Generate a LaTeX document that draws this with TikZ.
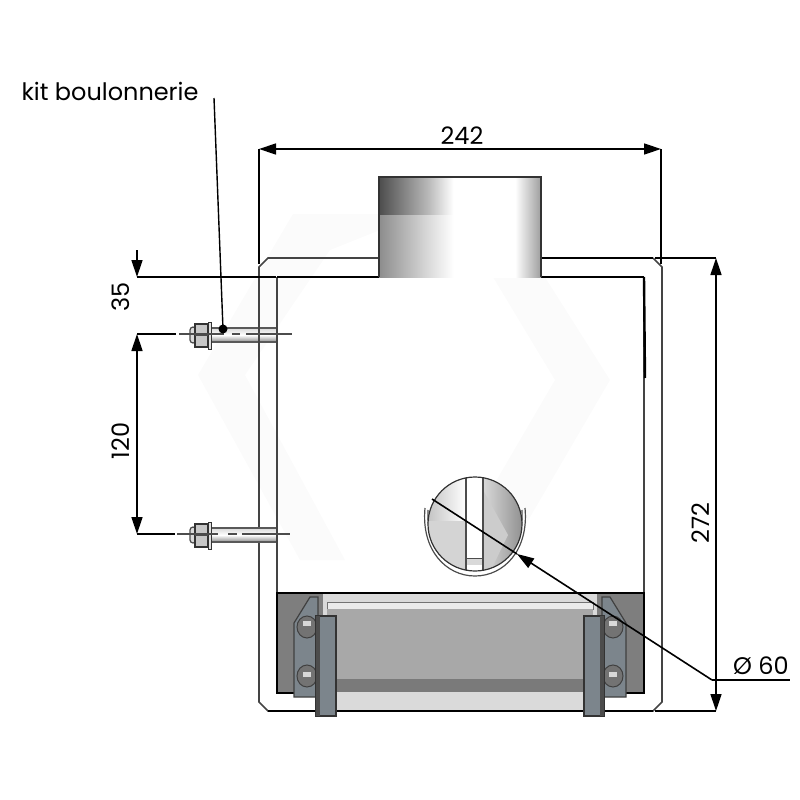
\documentclass[tikz,border=0pt]{standalone}
\usepackage{fontspec}
\setmainfont{Poppins}
\usetikzlibrary{calc,arrows.meta}

\definecolor{boxgray}{HTML}{7E7E7E}
\definecolor{panelgray}{HTML}{A8A8A8}
\definecolor{bandgray}{HTML}{7A7A7A}
\definecolor{lightgray}{HTML}{DADADA}
\definecolor{bargray}{HTML}{7C858C}
\definecolor{wallgray}{HTML}{444444}
\definecolor{markgray}{HTML}{FBFBFB}

\pgfdeclarehorizontalshading{pipelow}{100bp}{color(0bp)=(black!45);color(25bp)=(black!45);color(40bp)=(black!15);color(48bp)=(white);color(67bp)=(white);color(75bp)=(black!38);color(100bp)=(black!38)}
\pgfdeclarehorizontalshading{pipehigh}{100bp}{color(0bp)=(black!70);color(25bp)=(black!70);color(40bp)=(black!28);color(48bp)=(white);color(67bp)=(white);color(75bp)=(black!38);color(100bp)=(black!38)}

\tikzset{
  dimline/.style={line width=1.4pt,black},
  onetip/.style={-{Triangle[length=17pt,width=11pt]}},
  twotip/.style={{Triangle[length=17pt,width=11pt]}-{Triangle[length=17pt,width=11pt]}},
  wall/.style={line width=1.6pt,wallgray},
  dimlabel/.style={font=\fontsize{24}{24}\selectfont,inner sep=0pt},
  pics/bolt/.style={code={
    \shade[top color=black!15,bottom color=black!45,middle color=white] (11,-6) rectangle (77,8);
    \draw[line width=1.2pt,black!65] (11,-6) -- (77,-6) (11,8) -- (77,8);
    \draw[line width=1.2pt,black!70,fill=lightgray,rounded corners=3pt] (-10,-7) rectangle (-4,9);
    \draw[line width=1.4pt,black!80,fill=black!22] (-5,-10) rectangle (8,13);
    \draw[line width=1pt,black!70] (-5,1) -- (8,1);
    \draw[line width=1pt,black!80,fill=black!12] (8,-12) rectangle (11,15);
  }},
  pics/clamp/.style={code={
    % plate with its tab
    \draw[line width=1.2pt,black!75,fill=bargray] (-22,7) -- (-6,-19) -- (2,-19) -- (2,81) -- (-22,81) -- cycle;
    % two screws
    \draw[line width=1pt,black!75,fill=black!55] (-9,11) ellipse (10 and 11);
    \fill[black!15] (-13,5) rectangle (-5,10);
    \draw[line width=1pt,black!75,fill=black!55] (-9,60) ellipse (10 and 11);
    \fill[black!15] (-13,56) rectangle (-5,61);
    % upright bar
    \draw[line width=1.2pt,black!80,fill=bargray] (0,0) rectangle (20,100);
    \fill[black!70] (0,0) rectangle (4,100);
  }}
}

\begin{document}
\begin{tikzpicture}[x=1pt,y=-1pt]
\useasboundingbox (0,0) rectangle (800,800);

% faint mark behind the drawing
\fill[markgray] (293,214) -- (420,214) -- (330,250) -- (245,375) -- (345,560) -- (300,560) -- (198,375) -- cycle;
\fill[markgray] (505,214) -- (610,380) -- (505,560) -- (450,560) -- (555,380) -- (455,214) -- cycle;

% casing
\draw[wall] (379,258) -- (268,258) -- (259,267) -- (259,702) -- (268,711) -- (653,711) -- (662,702) -- (662,267) -- (653,258);
\draw[dimline] (379,258) -- (653,258);
\draw[dimline] (268,711) -- (653,711);

% front wall
\coordinate (frontnw) at (277,277);
\coordinate (frontne) at (644,277);
\coordinate (frontsw) at (277,593);
\coordinate (frontse) at (644,593);
\coordinate (frontmid) at (645,378);
\draw[wall] (frontnw) -- (frontsw);
\draw[wall] (frontne) -- (frontse);
\draw[dimline] (frontnw) -- (frontne);
\draw[black,line width=2.4pt] (frontne) -- (frontmid);

% flue
\shade[shading=pipelow] (379,214) rectangle (541,277);
\shade[shading=pipehigh] (379,177) rectangle (541,214);
\draw[black!80,line width=1.2pt] (379,277) -- (379,177) -- (541,177) -- (541,277);

% bottom tray
\draw[black,line width=1.2pt,fill=boxgray] (277,593) rectangle (644,693);
\fill[lightgray] (323,594) rectangle (597,693);
\draw[black!55,line width=1pt,fill=black!8] (327,602) rectangle (593,609);
\fill[panelgray] (327,609) rectangle (593,679);
\fill[bandgray] (323,679) rectangle (597,692);
\fill[lightgray] (335,693) rectangle (585,710);

% clamps
\pic at (316,616) {clamp};
\pic[xscale=-1] at (604,616) {clamp};

% side opening
\draw[black!70,line width=1.2pt] (425,508) .. controls (421,550) and (446,576) .. (475,576) .. controls (504,576) and (529,550) .. (525,508);
\draw[black!70,line width=1.2pt] (428,510) .. controls (426,548) and (450,570) .. (475,570) .. controls (500,570) and (524,548) .. (522,510);
\begin{scope}
\clip (475,524) circle (47);
\fill[black!17] (425,470) rectangle (466,572);
\shade[left color=black!25,right color=white] (425,470) rectangle (466,520);
\shade[left color=black!15,right color=black!45] (483,470) rectangle (525,572);
\fill[black!20] (483,490) -- (508,535) -- (490,572) -- (483,572) -- cycle;
\fill[white] (466,470) rectangle (483,572);
\fill[black!15] (466,558) rectangle (483,565);
\draw[black!70,line width=1.2pt] (466,470) -- (466,572) (483,470) -- (483,572);
\draw[black!70,line width=1pt] (466,558) -- (483,558);
\end{scope}
\draw[black!80,line width=1.2pt] (475,524) circle (47);

% bolts
\pic at (200,334) {bolt};
\pic at (200,534) {bolt};
\draw[wall] (259,320) -- (259,350);
\draw[wall] (277,320) -- (277,350);
\draw[wall] (277,520) -- (277,550);

% centre lines
\coordinate (upbolta) at (176,334);
\coordinate (upboltb) at (179,334);
\coordinate (upboltc) at (224,334);
\coordinate (upboltd) at (232,334);
\coordinate (upbolte) at (240,334);
\coordinate (upboltf) at (246,334);
\coordinate (upboltg) at (292,334);
\draw[black!70,line width=1.2pt] (upboltb) -- (upboltc);
\draw[black!70,line width=1.2pt] (upboltd) -- (upbolte);
\draw[black!70,line width=1.2pt] (upboltf) -- (upboltg);
\coordinate (lowbolta) at (175,534);
\coordinate (lowboltb) at (177,534);
\coordinate (lowboltc) at (218,534);
\coordinate (lowboltd) at (228,534);
\coordinate (lowbolte) at (237,534);
\coordinate (lowboltf) at (242,534);
\coordinate (lowboltg) at (290,534);
\draw[black!70,line width=1.2pt] (lowboltb) -- (lowboltc);
\draw[black!70,line width=1.2pt] (lowboltd) -- (lowbolte);
\draw[black!70,line width=1.2pt] (lowboltf) -- (lowboltg);

% width
\coordinate (widthl) at (259,149);
\coordinate (widthr) at (661,149);
\coordinate (widthlow) at (259,264);
\coordinate (widthrow) at (661,264);
\draw[dimline] (widthl) -- (widthlow);
\draw[dimline] (widthr) -- (widthrow);
\draw[dimline,twotip] (widthl) -- (widthr);
\draw node [dimlabel](lblwidth) at (462,136){242};

% height
\coordinate (heightt) at (716,258);
\coordinate (heightb) at (716,711);
\coordinate (heighttl) at (655,258);
\coordinate (heightbl) at (655,711);
\draw[dimline] (heighttl) -- (heightt);
\draw[dimline] (heightbl) -- (heightb);
\draw[dimline,twotip] (heightt) -- (heightb);
\draw node [dimlabel,rotate=90](lblheight) at (701,523){272};

% left side
\coordinate (sidestub) at (137,250);
\coordinate (sidetop) at (137,277);
\coordinate (sideup) at (137,334);
\coordinate (sidelow) at (137,534);
\coordinate (sidetopr) at (276,277);
\draw[dimline] (sidetop) -- (sidetopr);
\draw[dimline] (sideup) -- (upbolta);
\draw[dimline] (sidelow) -- (lowbolta);
\draw[dimline,onetip] (sidestub) -- (sidetop);
\draw[dimline,twotip] (sideup) -- (sidelow);
\draw node [dimlabel,rotate=90](lblupper) at (121,297){35};
\draw node [dimlabel,rotate=90](lbllower) at (121,441){120};

% kit leader
\draw node [dimlabel](lblkit) at (110,91){kit boulonnerie};
\coordinate (kitfrom) at (214,98);
\coordinate (kitdot) at (223,329);
\draw[dimline] (kitfrom) -- (kitdot);
\fill[black] (kitdot) circle (4.5);

% diameter
\coordinate (diaa) at (432,499);
\coordinate (diab) at (517,554);
\coordinate (diac) at (712,680);
\coordinate (diad) at (790,680);
\draw[dimline,line width=1.6pt] (diaa) -- (diab);
\draw[dimline,line width=1.6pt,onetip] (diac) -- (diab);
\draw[dimline,line width=1.6pt] (diac) -- (diad);
\draw node [dimlabel](lbldia) at (761,666){Ø 60};

\end{tikzpicture}
\end{document}
